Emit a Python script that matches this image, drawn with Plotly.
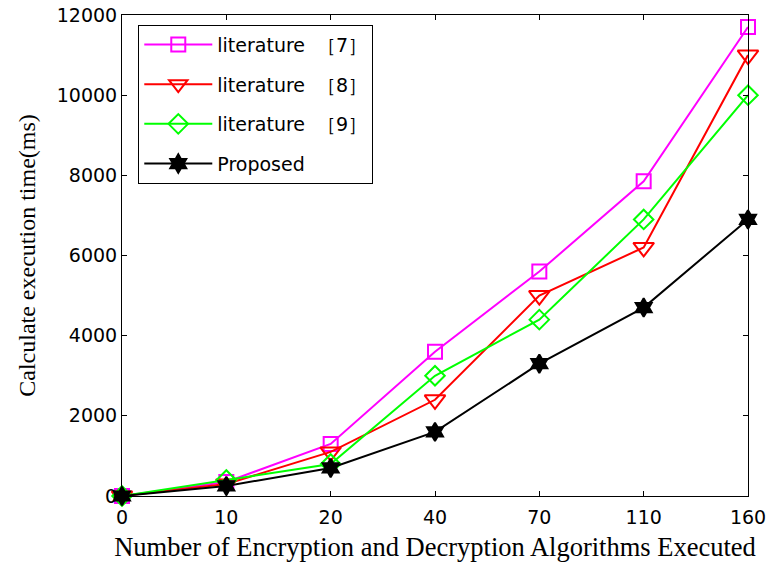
import plotly.graph_objects as go

categories = ["0", "10", "20", "40", "70", "110", "160"]
lit7 = [0, 350, 1300, 3600, 5600, 7850, 11700]
lit8 = [0, 300, 1100, 2400, 5000, 6200, 11000]
lit9 = [0, 400, 800, 3000, 4400, 6900, 10000]
proposed = [0, 250, 700, 1600, 3300, 4700, 6900]
y_ticks = [0, 2000, 4000, 6000, 8000, 10000, 12000]

names = ["literature  ［7］", "literature  ［8］", "literature  ［9］", "Proposed"]
colors = ["#ff00ff", "#ff0000", "#00ff00", "#000000"]
symbols = ["square-open", "triangle-down-open", "diamond-open", "hexagram"]
sizes = [14, 18, 15, 14]
series = [lit7, lit8, lit9, proposed]

xi = list(range(len(categories)))
fig = go.Figure()
for i, (nm, c, s, sz, y) in enumerate(zip(names, colors, symbols, sizes, series)):
    fig.add_trace(go.Scatter(
        x=xi, y=y, name=nm, mode="lines+markers",
        line=dict(color=c, width=2),
        marker=dict(symbol=s, size=sz, color=c,
                    line=dict(color=c, width=2)),
        legendgroup=str(i), cliponaxis=False,
    ))

fig.update_layout(
    width=769, height=568,
    margin=dict(l=122, r=21, t=15, b=72, autoexpand=False),
    paper_bgcolor="white", plot_bgcolor="white",
    font=dict(family="DejaVu Sans", size=16, color="black"),
    showlegend=True,
    legend=dict(x=0.026, y=0.98, xanchor="left", yanchor="top",
                bordercolor="black", borderwidth=1, bgcolor="white",
                font=dict(family="DejaVu Sans", size=19),
                tracegroupgap=12, itemwidth=68),
    xaxis=dict(
        range=[0, 6], tickmode="array", tickvals=xi, ticktext=categories,
        showline=True, linecolor="black", linewidth=1, mirror="ticks",
        ticks="inside", ticklen=5, tickcolor="black", showgrid=False, zeroline=False,
        automargin=False, ticklabelstandoff=4,
        tickfont=dict(family="DejaVu Sans", size=19),
        title=dict(text="Number of Encryption and Decryption Algorithms Executed",
                   font=dict(family="Liberation Serif", size=26.5), standoff=10),
    ),
    yaxis=dict(
        range=[0, 12000], tickmode="array", tickvals=y_ticks,
        ticktext=[str(v) for v in y_ticks],
        showline=True, linecolor="black", linewidth=1, mirror="ticks",
        ticks="inside", ticklen=5, tickcolor="black", showgrid=False, zeroline=False,
        automargin=False,
        tickfont=dict(family="DejaVu Sans", size=19),
        title=dict(text="Calculate execution time(ms)",
                   font=dict(family="Liberation Serif", size=24), standoff=14),
    ),
)

fig.write_html("out.html")
